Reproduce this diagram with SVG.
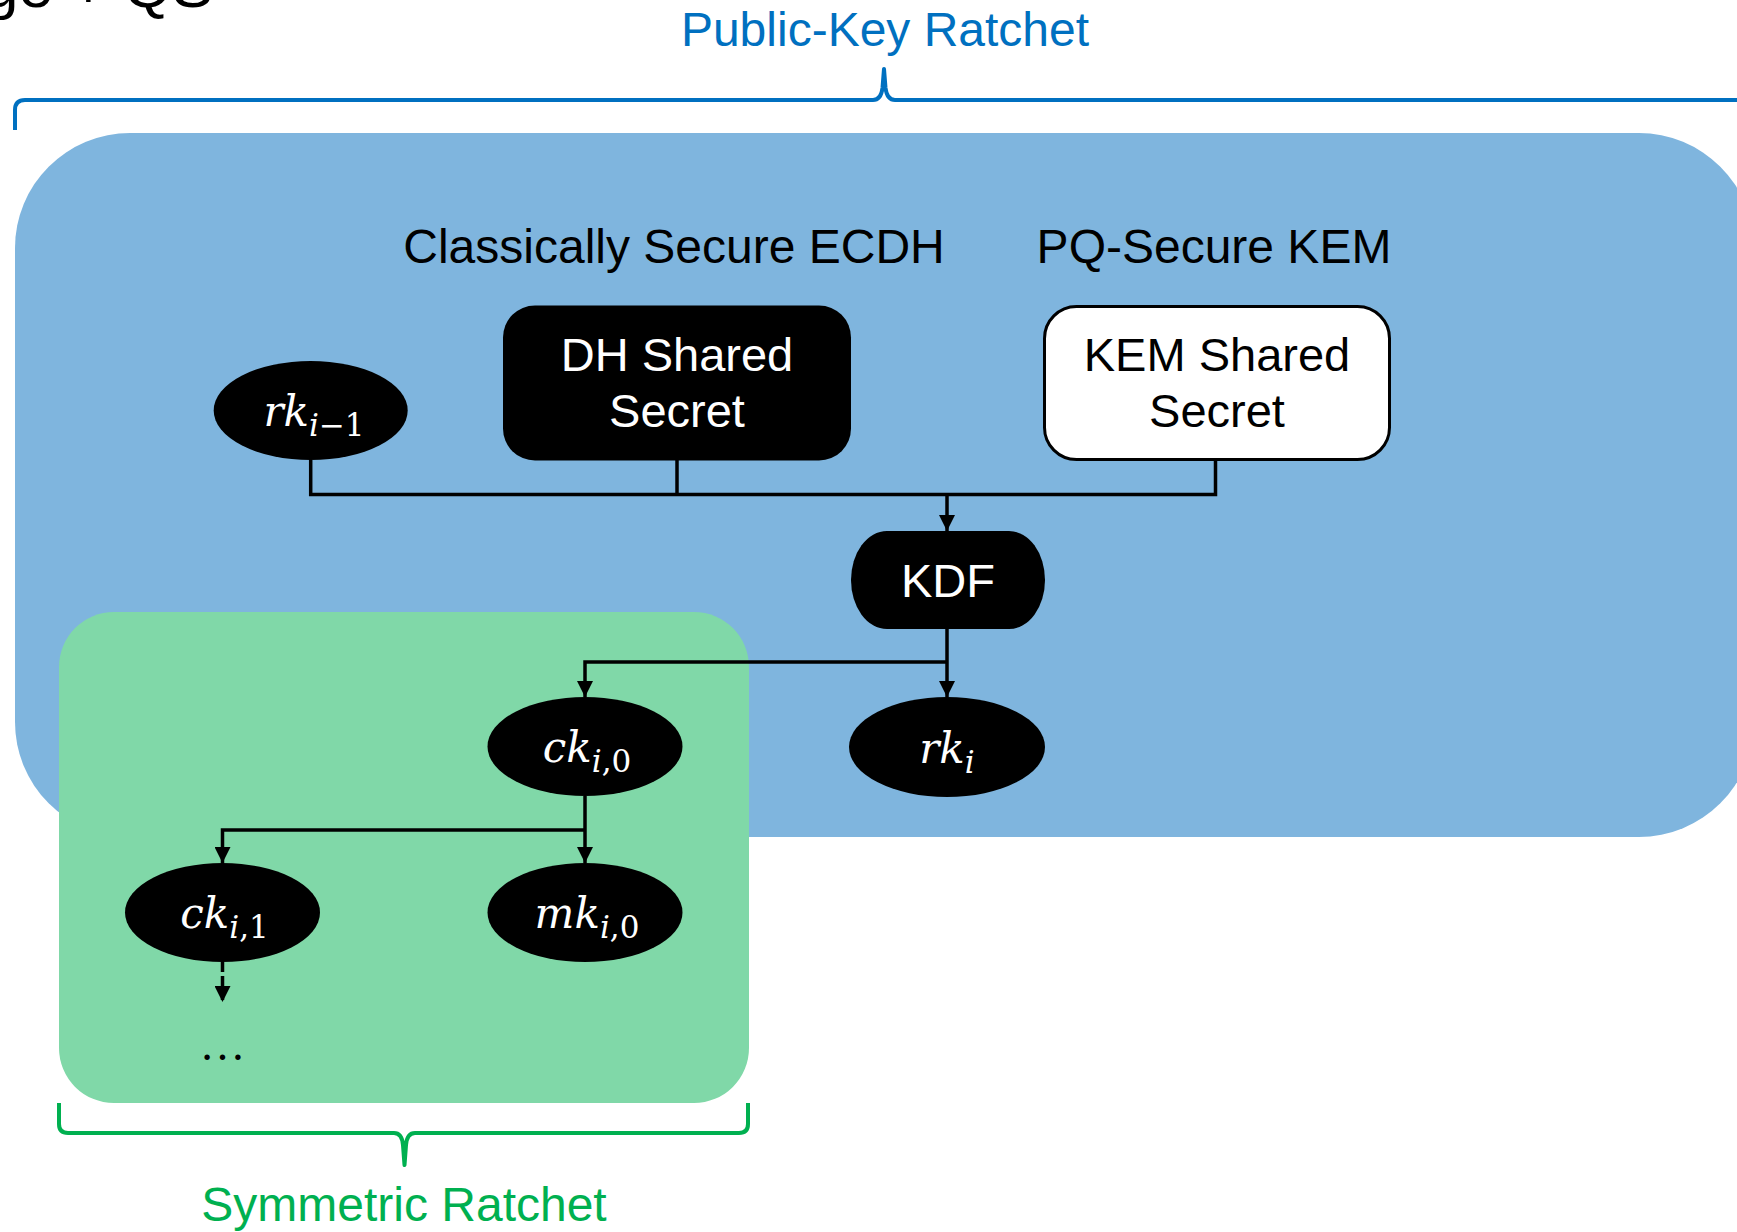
<svg xmlns="http://www.w3.org/2000/svg" width="1737" height="1232" viewBox="0 0 1737 1232">
  <defs>
    <marker id="arrow" markerUnits="userSpaceOnUse" markerWidth="16" markerHeight="16" refX="16" refY="8" orient="auto">
      <path d="M0,0 L16,8 L0,16 z" fill="#000"/>
    </marker>
    <style>
      .sans { font-family: "Liberation Sans", Arial, sans-serif; }
      .head { font-size: 48px; text-anchor: middle; }
      .lbl { font-size: 47px; text-anchor: middle; }
      .math { font-family: "DejaVu Serif", serif; font-style: italic; font-size: 42px; fill: #fff; text-anchor: middle; }
      .up { font-style: normal; }
      .sub { font-size: 31px; }
      .wire { fill: none; stroke: #000; stroke-width: 3.5; }
      .key { fill: #000; }
      .brace { fill: none; stroke-width: 4; stroke-linejoin: round; }
    </style>
  </defs>

  <rect width="1737" height="1232" fill="#fff"/>

  <!-- slide title, clipped at the top edge -->
  <text class="sans" x="-16" y="7" font-size="62" fill="#000">ge + QS</text>

  <!-- public-key ratchet region -->
  <g id="public-key-ratchet">
    <rect x="15" y="133" width="1739" height="704" rx="115" ry="115" fill="#7FB5DE"/>
    <path class="brace" stroke="#0070C0" d="M15,130 V110 Q15,100 25,100 H873 Q881,100 882.5,88 L884,69 L885.5,88 Q887,100 895,100 H1745"/>
    <text class="sans head" x="885" y="46" fill="#0070C0">Public-Key Ratchet</text>
  </g>

  <!-- symmetric ratchet region -->
  <g id="symmetric-ratchet">
    <rect x="59" y="612" width="690" height="491" rx="55" ry="55" fill="#80D8A8"/>
    <path class="brace" stroke="#00B050" stroke-width="3.5" d="M59,1103 V1124 Q59,1133 68,1133 H394 Q402,1133 403,1145 L404.5,1165 L406,1145 Q407,1133 415,1133 H739 Q748,1133 748,1124 V1103"/>
    <text class="sans head" x="404" y="1221" fill="#00B050">Symmetric Ratchet</text>
  </g>

  <!-- column headings -->
  <g id="headings">
    <text class="sans head" x="674" y="263" fill="#000">Classically Secure ECDH</text>
    <text class="sans head" x="1214" y="263" fill="#000">PQ-Secure KEM</text>
  </g>

  <!-- connectors -->
  <g id="connectors">
    <path class="wire" d="M310.7,460 V494.5 H1215.5 V460"/>
    <path class="wire" d="M677,460 V494.5"/>
    <path class="wire" d="M947,494.5 V531" marker-end="url(#arrow)"/>
    <path class="wire" d="M947,629 V697" marker-end="url(#arrow)"/>
    <path class="wire" d="M947,662 H585 V697" marker-end="url(#arrow)"/>
    <path class="wire" d="M585,796 V863" marker-end="url(#arrow)"/>
    <path class="wire" d="M585,830 H222.5 V863" marker-end="url(#arrow)"/>
    <path class="wire" d="M222.5,962 V1002" stroke-dasharray="10 4" marker-end="url(#arrow)"/>
  </g>

  <!-- nodes -->
  <g id="rk-prev">
    <ellipse class="key" cx="310.7" cy="410.5" rx="97" ry="49.5"/>
    <text class="math" x="314" y="426">rk<tspan class="sub" dy="10">i<tspan class="up">−1</tspan></tspan></text>
  </g>

  <g id="dh-shared-secret">
    <rect x="503" y="305.5" width="348" height="155" rx="32" ry="32" fill="#000"/>
    <text class="sans lbl" x="677" y="370.5" fill="#fff">DH Shared</text>
    <text class="sans lbl" x="677" y="426.5" fill="#fff">Secret</text>
  </g>

  <g id="kem-shared-secret">
    <rect x="1044.5" y="306.5" width="345" height="153" rx="32" ry="32" fill="#fff" stroke="#000" stroke-width="3"/>
    <text class="sans lbl" x="1217" y="370.5" fill="#000">KEM Shared</text>
    <text class="sans lbl" x="1217" y="426.5" fill="#000">Secret</text>
  </g>

  <g id="kdf">
    <rect x="851" y="531" width="194" height="98" rx="36" ry="49" fill="#000"/>
    <text class="sans lbl" x="948" y="597" fill="#fff">KDF</text>
  </g>

  <g id="rk-cur">
    <ellipse class="key" cx="947" cy="747" rx="98" ry="50"/>
    <text class="math" x="947" y="763">rk<tspan class="sub" dy="10">i</tspan></text>
  </g>

  <g id="ck-i0">
    <ellipse class="key" cx="585" cy="746.5" rx="97.5" ry="49.5"/>
    <text class="math" x="587" y="762">ck<tspan class="sub" dy="10">i<tspan class="up">,0</tspan></tspan></text>
  </g>

  <g id="ck-i1">
    <ellipse class="key" cx="222.5" cy="912.5" rx="97.5" ry="49.5"/>
    <text class="math" x="224.5" y="928">ck<tspan class="sub" dy="10">i<tspan class="up">,1</tspan></tspan></text>
  </g>

  <g id="mk-i0">
    <ellipse class="key" cx="585" cy="912.5" rx="97.5" ry="49.5"/>
    <text class="math" x="587" y="928">mk<tspan class="sub" dy="10">i<tspan class="up">,0</tspan></tspan></text>
  </g>

  <g id="continuation">
    <text x="222.5" y="1060" font-family="'Liberation Serif', serif" font-size="46" text-anchor="middle" fill="#000">…</text>
  </g>
</svg>
